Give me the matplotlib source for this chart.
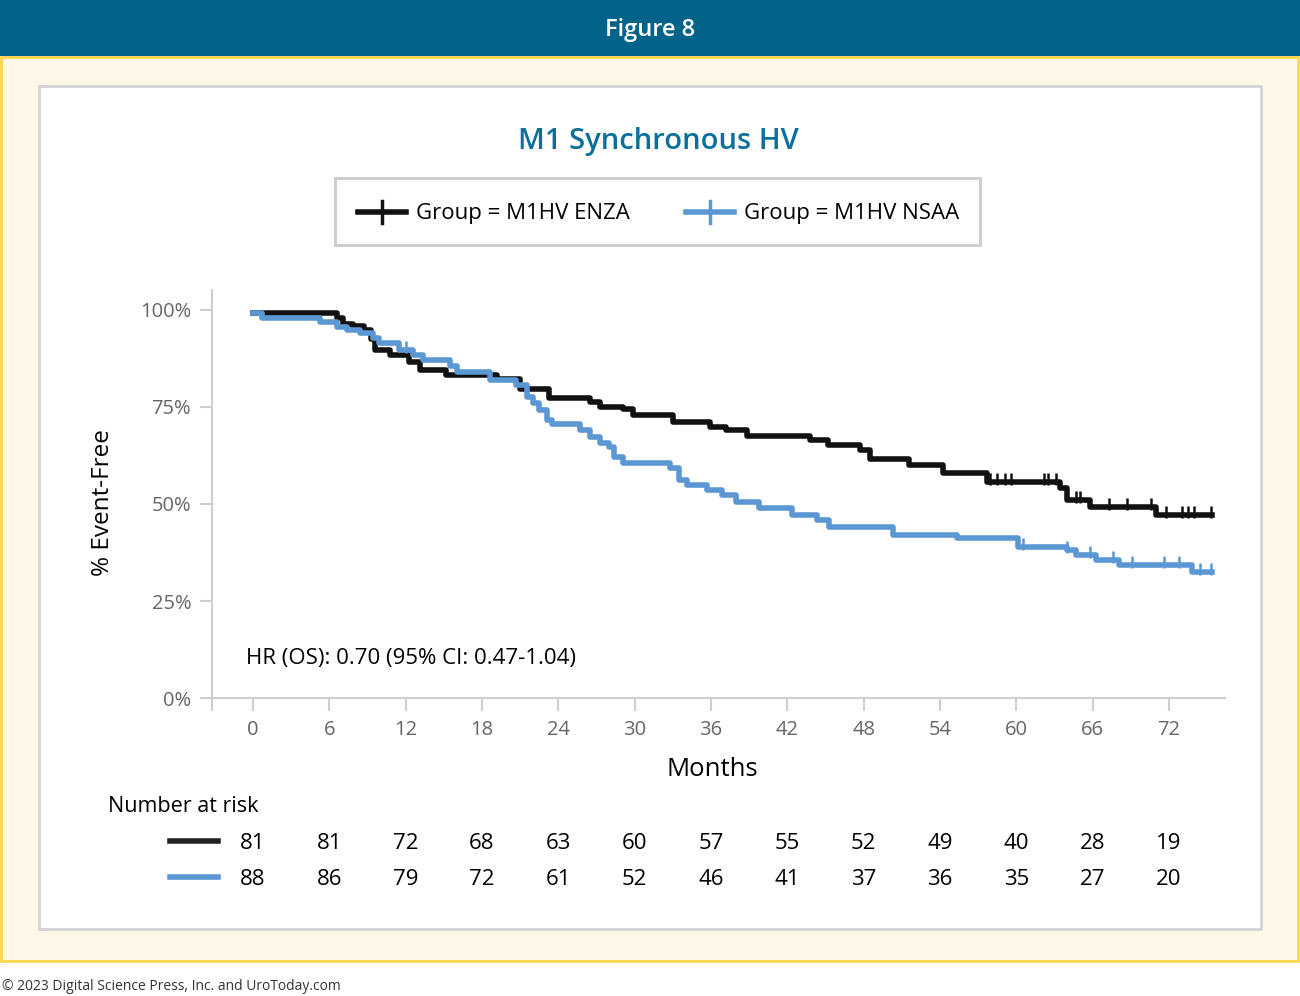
import matplotlib
matplotlib.use("Agg")
import matplotlib.pyplot as plt
import matplotlib.transforms as mtransforms
from matplotlib.patches import Rectangle
from matplotlib.lines import Line2D
import numpy as np

W, H = 1300, 996

# KM steps (months, % event-free)
enza_t = [0, 6.6, 7.1, 7.9, 8.7, 9.3, 9.6, 10.8, 12.3, 13.1, 15.2, 19.2, 21.0, 23.3,
          26.5, 27.3, 29.1, 29.9, 33.0, 35.9, 37.2, 38.8, 43.8, 45.2, 47.7, 48.5,
          51.6, 54.2, 57.7, 63.4, 64.0, 65.8, 71.0, 75.4]
enza_s = [99.3, 98.0, 96.3, 95.9, 94.8, 92.5, 89.7, 88.4, 86.6, 84.5, 83.2, 82.3, 79.6, 77.3,
          76.3, 75.0, 74.5, 73.0, 71.1, 69.8, 69.0, 67.5, 66.5, 65.2, 63.9, 61.6,
          60.0, 58.0, 55.7, 54.0, 51.0, 49.3, 47.2, 47.2]
enza_cens = [57.9, 58.5, 59.1, 59.6, 62.2, 62.5, 63.1, 64.7, 65.0, 67.3, 68.7, 70.6,
             71.8, 73.0, 73.5, 74.0, 75.3]

nsaa_t = [0, 0.7, 5.3, 6.6, 7.4, 8.4, 9.4, 9.9, 11.5, 12.6, 13.4, 15.5, 16.0, 18.6, 20.7,
          21.5, 22.0, 22.5, 23.1, 23.5, 25.7, 26.5, 27.3, 28.0, 28.4, 29.1, 32.8, 33.5,
          34.1, 35.7, 36.9, 38.0, 39.8, 42.4, 44.3, 45.3, 50.3, 55.3, 60.1, 64.0, 64.7,
          66.3, 68.1, 73.8, 75.4]
nsaa_s = [99.3, 98.0, 96.9, 95.6, 94.8, 94.0, 92.8, 91.5, 89.7, 88.4, 87.1, 85.5, 84.0, 82.0, 80.7,
          77.6, 76.0, 74.2, 71.6, 70.6, 69.1, 67.3, 65.7, 64.7, 62.1, 60.5, 59.3, 56.2,
          54.9, 53.6, 52.3, 50.5, 49.0, 47.2, 45.9, 44.1, 42.0, 41.2, 38.9, 38.1, 36.9,
          35.6, 34.3, 32.5, 32.5]
nsaa_cens = [12.0, 60.5, 64.0, 65.8, 67.6, 69.1, 71.6, 72.8, 74.4, 75.3]

risk_months = list(range(0, 73, 6))
risk_enza = [81, 81, 72, 68, 63, 60, 57, 55, 52, 49, 40, 28, 19]
risk_nsaa = [88, 86, 79, 72, 61, 52, 46, 41, 37, 36, 35, 27, 20]

y_ticks = [0, 25, 50, 75, 100]
y_labels = ["0%", "25%", "50%", "75%", "100%"]
x_ticks = list(range(0, 73, 6))

BLACK = "#111111"
BLUE = "#5b97d3"
GRAY_TXT = "#666666"
AXIS_GRAY = "#cfcfcf"

plt.rcParams['font.family'] = ['Open Sans', 'DejaVu Sans']

fig = plt.figure(figsize=(13, 9.96), dpi=100)


def fx(x):
    return x / W


def fy(y):
    # small shift so centred text sits like the reference
    return 1 - y / H


# frame pieces
fig.patches.append(Rectangle((0, fy(56)), 1, 56 / H, transform=fig.transFigure,
                             facecolor="#01638a", edgecolor="none", zorder=-5))
fig.patches.append(Rectangle((fx(1), fy(961)), 1297 / W, 904 / H, transform=fig.transFigure,
                             facecolor="#fff8e8", edgecolor="#ffd54a", lw=2, zorder=-5))
fig.patches.append(Rectangle((fx(39), fy(929)), 1222 / W, 843 / H, transform=fig.transFigure,
                             facecolor="white", edgecolor="#d4d4d4", lw=2, zorder=-4))
fig.patches.append(Rectangle((fx(335), fy(245)), 645 / W, 67 / H, transform=fig.transFigure,
                             facecolor="white", edgecolor="#cccccc", lw=2, zorder=-3))

fig.text(fx(650), fy(30), "Figure 8", color="white", fontsize=17, fontweight="semibold",
         ha="center", va="center")
fig.text(fx(658), fy(141), "M1 Synchronous HV", color="#0b6f9c", fontsize=21,
         fontweight="semibold", ha="center", va="center")
fig.text(fx(2), fy(986), "\u00a9 2023 Digital Science Press, Inc. and UroToday.com",
         color="#333333", fontsize=10, ha="left", va="center")

# legend
for x0, col, lab in [(358, BLACK, "Group = M1HV ENZA"), (686, BLUE, "Group = M1HV NSAA")]:
    fig.add_artist(Line2D([fx(x0), fx(x0 + 48)], [fy(212), fy(212)], transform=fig.transFigure,
                          color=col, lw=4))
    fig.add_artist(Line2D([fx(x0 + 24), fx(x0 + 24)], [fy(201), fy(223)], transform=fig.transFigure,
                          color=col, lw=2.5))
    fig.text(fx(x0 + 58), fy(214), lab, fontsize=16, fontweight="medium", ha="left", va="center")

# main axes
ax = fig.add_axes([fx(212), fy(710), (1225 - 212) / W, 420 / H])
ax.patch.set_visible(False)
ax.set_xlim(-3.22, 76.40)
ax.set_ylim(-3.09, 105.15)

ax.step(enza_t, enza_s, where="post", color=BLACK, lw=4)
ax.step(nsaa_t, nsaa_s, where="post", color=BLUE, lw=4)


def at(ts, ss, c):
    i = np.searchsorted(ts, c, side="right") - 1
    return ss[i]


ax.plot(enza_cens, [at(enza_t, enza_s, c) + 0.8 for c in enza_cens], ls="none",
        marker="|", ms=9, mew=1.8, color=BLACK)
ax.plot(nsaa_cens, [at(nsaa_t, nsaa_s, c) + 0.8 for c in nsaa_cens], ls="none",
        marker="|", ms=9, mew=1.8, color=BLUE)

for s in ["top", "right"]:
    ax.spines[s].set_visible(False)
ax.spines["bottom"].set_position(("data", 0))
for s in ["left", "bottom"]:
    ax.spines[s].set_color(AXIS_GRAY)
    ax.spines[s].set_linewidth(1.5)

ax.set_yticks(y_ticks)
ax.set_yticklabels(y_labels)
ax.set_xticks(x_ticks)
ax.tick_params(axis="y", length=9, width=1.5, color=AXIS_GRAY, pad=6,
               labelsize=14.5, labelcolor=GRAY_TXT)
ax.tick_params(axis="x", length=9, width=1.5, color=AXIS_GRAY, pad=7,
               labelsize=14.5, labelcolor=GRAY_TXT)

ax.text(-0.55, 10.3, "HR (OS): 0.70 (95% CI: 0.47-1.04)", fontsize=16, ha="left", va="center")

fig.text(fx(103), fy(503), "% Event-Free", rotation=90, fontsize=17.5, fontweight="medium",
         ha="center", va="center")
fig.text(fx(712), fy(770), "Months", fontsize=18.5, fontweight="medium", ha="center", va="center")
fig.text(fx(108), fy(806), "Number at risk", fontsize=15.5, fontweight="medium",
         ha="left", va="center")

# risk table
trans = mtransforms.blended_transform_factory(ax.transData, fig.transFigure)
for yy, col, vals in [(841, "#222222", risk_enza), (877, BLUE, risk_nsaa)]:
    fig.add_artist(Line2D([fx(170), fx(218)], [fy(yy), fy(yy)], transform=fig.transFigure,
                          color=col, lw=4))
    for m, n in zip(risk_months, vals):
        fig.text(m, fy(yy + 2), str(n), transform=trans, fontsize=16, ha="center", va="center")

fig.savefig("out.png", dpi=100)
